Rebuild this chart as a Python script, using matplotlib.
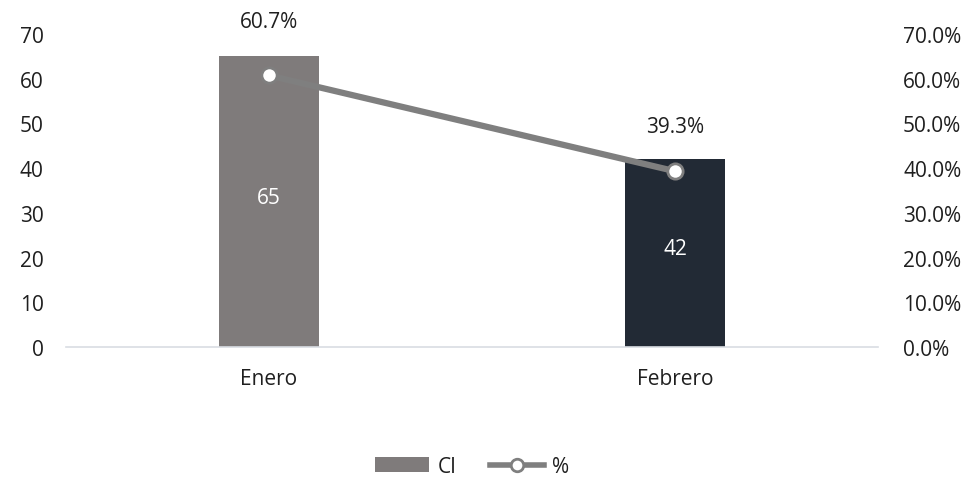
import numpy as np
import matplotlib.pyplot as plt
from matplotlib.lines import Line2D
from matplotlib.patches import Patch

# datos
meses = ["Enero", "Febrero"]
ci = [65, 42]
pct = [0.607, 0.393]
colores_barra = ["#7F7B7B", "#222A35"]
desplaz_etiqueta = [39, 32]  # puntos sobre el marcador

plt.rcParams['font.family'] = ['Open Sans', 'DejaVu Sans']
texto = "#1F1F1F"
fs = 15

fig = plt.figure(figsize=(9.74, 4.81), dpi=100)
ax = fig.add_axes([0.0678, 0.2765, 0.8337, 0.651])
ax2 = ax.twinx()

x = np.arange(len(meses))
ax.bar(x, ci, width=0.245, color=colores_barra, zorder=2)
ax.set_xlim(-0.5, 1.5)
ax.set_ylim(0, 70)
ax.set_yticks(range(0, 71, 10))
ax.set_xticks(x)
ax.set_xticklabels(meses)

for xi, v in zip(x, ci):
    ax.text(xi, v / 2 + 1, f"{v}", ha="center", va="center", color="white", fontsize=fs)

ax2.plot(x, pct, color="#7F7F7F", lw=4.5, marker="o", markersize=11,
         markerfacecolor="white", markeredgecolor="#7F7F7F", markeredgewidth=2,
         solid_capstyle="butt", zorder=3)
ax2.set_ylim(0, 0.7)
ax2.set_yticks(np.arange(0, 0.71, 0.1))
ax2.set_yticklabels([f"{t:.1%}" for t in np.arange(0, 0.71, 0.1)])

for xi, v, d in zip(x, pct, desplaz_etiqueta):
    ax2.annotate(f"{v:.1%}", (xi, v), xytext=(0, d), textcoords="offset points",
                 ha="center", va="center", color=texto, fontsize=fs)

for a in (ax, ax2):
    for s in a.spines.values():
        s.set_visible(False)
    a.tick_params(length=0, labelsize=fs, labelcolor=texto)
ax.spines["bottom"].set_visible(True)
ax.spines["bottom"].set_color("#D9DDE3")
ax.spines["bottom"].set_linewidth(1.2)
ax.tick_params(axis="y", pad=16)
ax.tick_params(axis="x", pad=15)
ax2.tick_params(axis="y", pad=18)

handles = [Patch(facecolor=colores_barra[0]),
           Line2D([0], [0], color="#7F7F7F", lw=4, marker="o", markersize=9,
                  markerfacecolor="white", markeredgecolor="#7F7F7F", markeredgewidth=2)]
fig.legend(handles, ["CI", "%"], loc="center", bbox_to_anchor=(0.485, 0.028),
           ncol=2, frameon=False, fontsize=fs, handlelength=2.6, columnspacing=1.6,
           handletextpad=0.4, labelcolor=texto)

fig.savefig("out.png", dpi=100)
